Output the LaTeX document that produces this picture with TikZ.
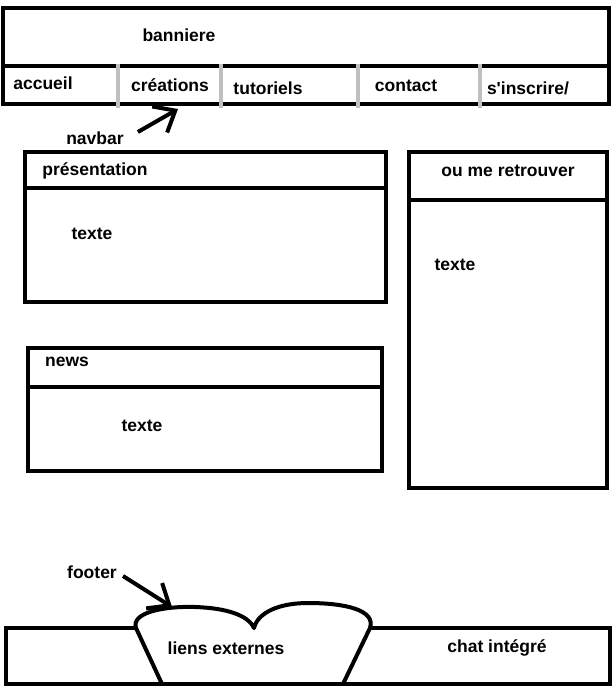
\documentclass[tikz,border=0pt]{standalone}
\usepackage{fontspec}
\setmainfont{Liberation Sans}
\usetikzlibrary{arrows.meta}

\tikzset{
  frame/.style={line width=4pt},
  divider/.style={line width=4pt,draw=black!25},
  word/.style={font=\fontsize{17.5}{20}\selectfont\bfseries,inner sep=0pt},
  pointer/.style={line width=4pt,-{Straight Barb[length=18pt,width=30pt,line width=4pt]}}
}

\begin{document}
\begin{tikzpicture}[x=1pt,y=-1pt]
    \useasboundingbox (0,0) rectangle (614,686);
    % banniere et navbar
    \draw[frame] (3,8) rectangle (609,104);
    \draw[frame] (3,66) -- (609,66);
    \foreach \x in {118,221,358,480}
      \draw[divider] (\x,64) -- (\x,108);
    \node[word] (banniere) at (179,35) {banniere};
    \node[word] (accueil) at (43,83) {accueil};
    \node[word] (creations) at (170,85) {créations};
    \node[word] (tutoriels) at (268,88) {tutoriels};
    \node[word] (contact) at (406,86) {contact};
    \node[word] (inscrire) at (528,88) {s\textquotesingle inscrire/};
    \node[word] (navbar) at (95,138) {navbar};
    \coordinate (navtip) at (178,109);
    \draw[pointer] ([shift={(14,-6)}]navbar.east) -- (navtip);
    % presentation
    \draw[frame] (25,152) rectangle (386,302);
    \draw[frame] (25,188) -- (386,188);
    \node[word] (presentation) at (95,171) {présentation};
    \node[word] (texteA) at (92,234) {texte};
    % ou me retrouver
    \draw[frame] (409,152) rectangle (607,488);
    \draw[frame] (409,200) -- (607,200);
    \node[word] (retrouver) at (508,171) {ou me retrouver};
    \node[word] (texteB) at (455,265) {texte};
    % news
    \draw[frame] (28,348) rectangle (382,471);
    \draw[frame] (28,387) -- (382,387);
    \node[word] (news) at (67,362) {news};
    \node[word] (texteC) at (142,426) {texte};
    % footer
    \draw[frame] (136,628) -- (6,628) -- (6,684) -- (610,684) -- (610,628) -- (370,628);
    \draw[frame,line join=round] (162,684) -- (136,628)
      .. controls (131,613) and (162,606) .. (195,607)
      .. controls (226,608) and (248,615) .. (254,628)
      .. controls (258,612) and (280,603) .. (308,603)
      .. controls (345,603) and (376,610) .. (370,628) -- (343,684);
    \node[word] (liens) at (226,648) {liens externes};
    \node[word] (chat) at (497,648) {chat intégré};
    \node[word] (footer) at (92,572) {footer};
    \coordinate (foottip) at (172,607);
    \draw[pointer] ([shift={(6,4)}]footer.east) -- (foottip);
\end{tikzpicture}
\end{document}
